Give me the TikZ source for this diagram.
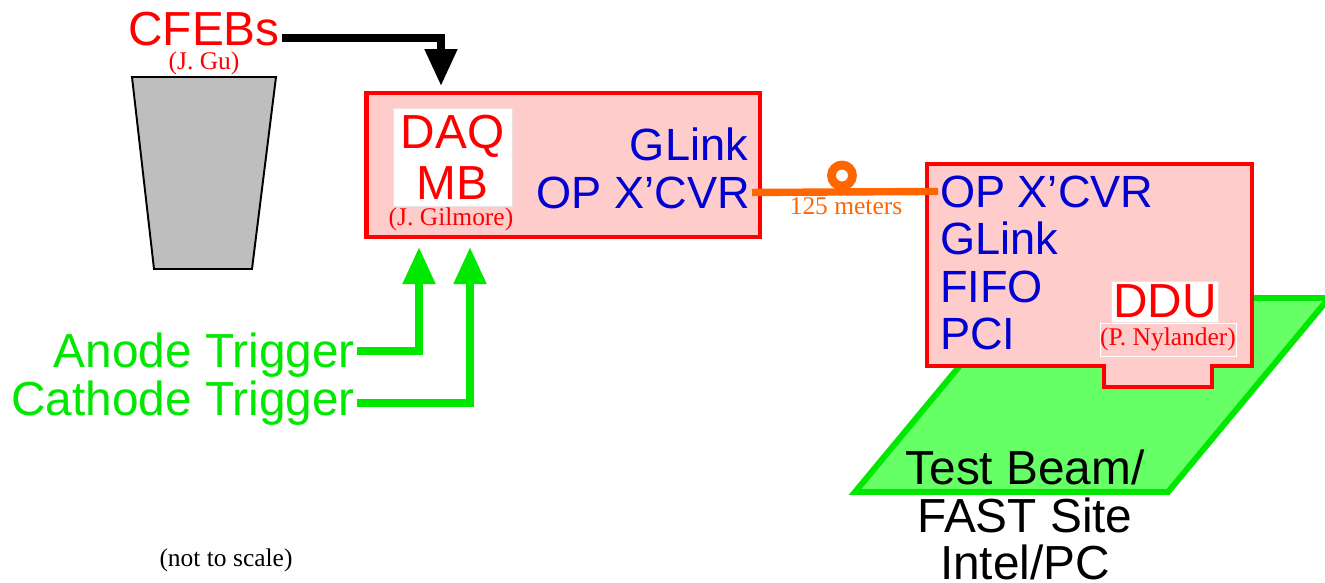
\documentclass[tikz,border=0pt]{standalone}
\usepackage{xcolor}
\usepackage{fontspec}
\usepackage{tikz}
\usetikzlibrary{arrows.meta, positioning, calc}
\setmainfont{Liberation Sans}
\newfontfamily\namefont{Liberation Serif}
\definecolor{myred}{RGB}{255,0,0}
\definecolor{mypink}{RGB}{255,204,204}
\definecolor{myblue}{RGB}{0,0,210}
\definecolor{mygreen}{RGB}{0,232,0}
\definecolor{padgreen}{RGB}{102,255,102}
\definecolor{myorange}{RGB}{255,102,0}
\definecolor{mygray}{RGB}{190,190,190}
\definecolor{labframe}{RGB}{235,225,225}
\tikzset{
  bigtext/.style={font=\fontsize{25.7}{27.4}\selectfont, inner sep=1pt},
  hugetext/.style={font=\fontsize{27.2}{27.2}\selectfont, inner sep=1pt},
  nametext/.style={font=\namefont\fontsize{14.5}{16}\selectfont, inner sep=0pt},
  board/.style={rectangle, draw=myred, fill=mypink, line width=2.8pt},
  whitelabel/.style={rectangle, draw=labframe, fill=white, line width=0.5pt, inner sep=0pt},
  sigarrow/.style={line width=4.5pt, -{Triangle[length=0.74cm, width=0.62cm]}},
  fiber/.style={line width=4.2pt, color=myorange}
}

\begin{document}
\begin{tikzpicture}[x=0.02cm, y=-0.02cm]
  \useasboundingbox (0,0) rectangle (1325,582);

  % --- CHAMBER + CFEBs ---
  \draw[fill=mygray, line width=1.1pt] (132,77) -- (276,77) -- (252,269) -- (154,269) -- cycle;
  \node[hugetext, anchor=base, text=myred] (cfebs) at (204,45) {CFEBs};
  \node[nametext, anchor=base, text=myred] (gu) at (204,69) {(J. Gu)};

  % --- DAQ MB ---
  \node[board, minimum width=7.88cm, minimum height=2.88cm] (daq) at (563,165) {};
  \node[whitelabel, hugetext, text=myred, align=center, minimum width=2.38cm, minimum height=1.96cm] (daqmb) at (452.5,157) {DAQ\\[2pt]MB};
  \node[nametext, anchor=base, text=myred] (gilmore) at (451,225) {(J. Gilmore)};
  \node[bigtext, anchor=base east, text=myblue] (daqgl) at (750,160) {GLink};
  \node[bigtext, anchor=base east, text=myblue] (daqop) at (752,208) {OP X'CVR};

  \coordinate (cfebsin) at (441,86);
  \draw[sigarrow] ([yshift=4pt]cfebs.base east) -| (cfebsin);

  % --- TRIGGERS ---
  \node[hugetext, anchor=base east, text=mygreen] (anode) at (357,367) {Anode Trigger};
  \node[hugetext, anchor=base east, text=mygreen] (cathode) at (357,415) {Cathode Trigger};
  \coordinate (anodein) at (419,247);
  \coordinate (cathodein) at (470,247);
  \draw[sigarrow, color=mygreen] ([yshift=2pt]anode.east) -| (anodein);
  \draw[sigarrow, color=mygreen] (cathode.east) -| (cathodein);

  % --- PC + DDU ---
  \draw[draw=mygreen, fill=padgreen, line width=3.4pt] (855,492) -- (1168,492) -- (1329,298) -- (1016,298) -- cycle;
  \node[hugetext, align=center] (pc) at (1025,515) {Test Beam/\\FAST Site\\Intel/PC};

  \draw[draw=myred, fill=mypink, line width=2.8pt] (927,164) -- (1252,164) -- (1252,366) -- (1212,366) -- (1212,387) -- (1104,387) -- (1104,366) -- (927,366) -- cycle;
  \node[bigtext, anchor=base west, text=myblue] (dduop) at (938,207) {OP X'CVR};
  \node[bigtext, anchor=base west, text=myblue] (ddugl) at (938,254.5) {GLink};
  \node[bigtext, anchor=base west, text=myblue] (ddufifo) at (938,302) {FIFO};
  \node[bigtext, anchor=base west, text=myblue] (ddupci) at (938,349.5) {PCI};
  \node[whitelabel, hugetext, text=myred, minimum width=2.12cm, minimum height=0.82cm] (ddu) at (1165,301.5) {DDU};
  \node[nametext, draw=white, line width=0.5pt, text=myred, minimum width=2.72cm, minimum height=0.66cm] (nylander) at (1168,339.5) {(P. Nylander)};

  % --- FIBER LINK ---
  \draw[fiber] (daqop.east) -- (dduop.west);
  \node[circle, draw=myorange, line width=5pt, minimum size=0.42cm, inner sep=0pt] (spool) at (842,175.5) {};
  \node[nametext, anchor=base, text=myorange] (meters) at (846,214) {125 meters};

  \node[nametext, anchor=base] (scale) at (226,566) {(not to scale)};
\end{tikzpicture}
\end{document}
